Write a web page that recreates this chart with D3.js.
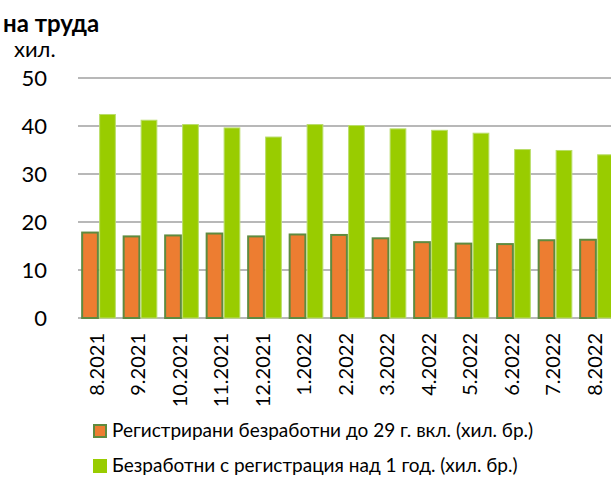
<!DOCTYPE html>
<html>
<head>
<meta charset="utf-8">
<script src="https://cdn.jsdelivr.net/npm/d3@7"></script>
<style>
  html, body { margin: 0; padding: 0; background: #fff; overflow: hidden; }
</style>
</head>
<body>
<div id="chart"></div>
<script>
const months = ["8.2021", "9.2021", "10.2021", "11.2021", "12.2021", "1.2022", "2.2022",
  "3.2022", "4.2022", "5.2022", "6.2022", "7.2022", "8.2022"];
const youthValues = [17.8, 17.0, 17.2, 17.6, 17.0, 17.4, 17.3, 16.6, 15.8, 15.5, 15.4, 16.2, 16.3];
const longTermValues = [42.4, 41.2, 40.3, 39.6, 37.7, 40.3, 40.1, 39.4, 39.1, 38.5, 35.1, 34.9, 34.0];
const seriesNames = [
  "Регистрирани безработни до 29 г. вкл. (хил. бр.)",
  "Безработни с регистрация над 1 год. (хил. бр.)"
];
const yTicks = [0, 10, 20, 30, 40, 50];

const width = 611;
const height = 477;
const font = "Lato, 'Open Sans', sans-serif";

const orange = "#ED7D31";
const orangeStroke = "#5E8B3F";
const green = "#99CC00";
const greenStroke = "#B9DD6A";
const gridColor = "#A0A0A0";

const svg = d3.select("#chart").append("svg")
  .attr("width", width)
  .attr("height", height)
  .style("font-family", font);

const plotLeft = 78;
const step = 41.5;
const x0 = d3.scaleBand()
  .domain(months)
  .range([plotLeft, plotLeft + step * months.length])
  .paddingInner(0.2)
  .paddingOuter(0.1);
const x1 = d3.scaleBand()
  .domain([0, 1])
  .range([0, x0.bandwidth()])
  .paddingInner(0.1);
const y = d3.scaleLinear().domain([0, 50]).range([318, 78]);

// title (only its last line is visible in the frame)
svg.append("text")
  .attr("x", 3).attr("y", 32)
  .attr("font-size", "24px").attr("font-weight", "bold")
  .text("на труда");
svg.append("text")
  .attr("x", 14).attr("y", 57)
  .attr("font-size", "22px")
  .text("хил.");

// gridlines
svg.append("g")
  .selectAll("line")
  .data(yTicks)
  .join("line")
  .attr("x1", plotLeft).attr("x2", width)
  .attr("y1", d => y(d)).attr("y2", d => y(d))
  .attr("stroke", gridColor)
  .attr("stroke-width", 1.4);

// y axis labels
const yAxis = svg.append("g")
  .attr("transform", `translate(${plotLeft - 31},0)`)
  .call(d3.axisLeft(y).tickValues(yTicks).tickSize(0).tickPadding(0));
yAxis.select(".domain").remove();
yAxis.selectAll("text")
  .attr("font-family", font)
  .attr("font-size", "22px")
  .attr("fill", "#000");

// bars
const groups = svg.append("g")
  .selectAll("g")
  .data(months.map((m, i) => ({ m, vals: [youthValues[i], longTermValues[i]] })))
  .join("g")
  .attr("transform", d => `translate(${x0(d.m)},0)`);

groups.selectAll("rect")
  .data(d => d.vals.map((v, k) => ({ k, v })))
  .join("rect")
  .attr("x", d => x1(d.k))
  .attr("y", d => y(d.v))
  .attr("width", x1.bandwidth())
  .attr("height", d => y(0) - y(d.v))
  .attr("fill", d => d.k === 0 ? orange : green)
  .attr("stroke", d => d.k === 0 ? orangeStroke : greenStroke)
  .attr("stroke-width", d => d.k === 0 ? 2 : 1);

// x axis labels
const xAxis = svg.append("g")
  .attr("transform", `translate(0,${y(0)})`)
  .call(d3.axisBottom(x0).tickSize(0).tickPadding(0));
xAxis.select(".domain").remove();
xAxis.selectAll("text")
  .attr("font-family", font)
  .attr("font-size", "20px")
  .attr("fill", "#000")
  .attr("transform", "rotate(-90)")
  .attr("text-anchor", "end")
  .attr("x", -15)
  .attr("y", -2)
  .attr("dy", "0.35em");

// legend
const legend = svg.append("g")
  .selectAll("g")
  .data(seriesNames)
  .join("g")
  .attr("transform", (d, i) => `translate(93,${424 + i * 35})`);
legend.append("rect")
  .attr("x", 1).attr("y", 1)
  .attr("width", 12).attr("height", 12)
  .attr("fill", (d, i) => i === 0 ? orange : green)
  .attr("stroke", (d, i) => i === 0 ? orangeStroke : green)
  .attr("stroke-width", 2);
legend.append("text")
  .attr("x", 19).attr("y", 13)
  .attr("font-size", "19px")
  .text(d => d);
</script>
</body>
</html>
